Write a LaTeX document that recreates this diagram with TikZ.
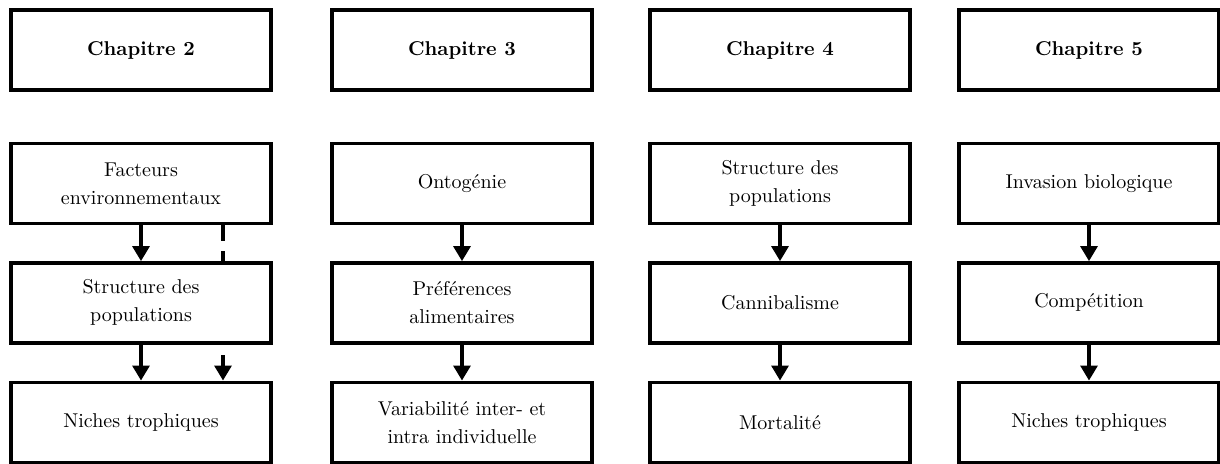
\documentclass[tikz,border=0pt]{standalone}
\usepackage{tikz}
\usetikzlibrary{positioning,arrows.meta,backgrounds}

\tikzset{
  boite/.style={draw, line width=1.7pt, fill=white, minimum width=130pt, minimum height=40pt,
    align=center, font={\fontsize{10}{14}\selectfont}},
  chap/.style={boite, font=\bfseries},
  fleche/.style={line width=1.6pt, -{Triangle[length=7.5pt,width=8.5pt]}},
}

\begin{document}
\begin{tikzpicture}[x=0.5pt, y=-0.5pt, node distance=18pt]
\useasboundingbox (0,0) rectangle (1220,463);

\node[chap] (ch2) at (141,50) {Chapitre 2};
\node[chap] (ch3) at (462,50) {Chapitre 3};
\node[chap] (ch4) at (780,50) {Chapitre 4};
\node[chap] (ch5) at (1089,50) {Chapitre 5};

\node[boite, below=25pt of ch2] (fact) {Facteurs\\environnementaux};
\node[boite, below=of fact] (struct) {Structure des\\populations};
\node[boite, below=of struct] (niche) {Niches trophiques};

\node[boite, below=25pt of ch3] (onto) {Ontog\'enie};
\node[boite, below=of onto] (pref) {Pr\'ef\'erences\\alimentaires};
\node[boite, below=of pref] (vari) {Variabilit\'e inter- et\\intra individuelle};

\node[boite, below=25pt of ch4] (pop) {Structure des\\populations};
\node[boite, below=of pop] (canni) {Cannibalisme};
\node[boite, below=of canni] (mort) {Mortalit\'e};

\node[boite, below=25pt of ch5] (inva) {Invasion biologique};
\node[boite, below=of inva] (compet) {Comp\'etition};
\node[boite, below=of compet] (niche2) {Niches trophiques};

\begin{scope}[on background layer]
\draw[fleche, dash pattern=on 8pt off 5pt] ([xshift=41pt]fact.south) -- ([xshift=41pt]niche.north);
\end{scope}

\draw[fleche] (fact) -- (struct);
\draw[fleche] (struct) -- (niche);
\draw[fleche] (onto) -- (pref);
\draw[fleche] (pref) -- (vari);
\draw[fleche] (pop) -- (canni);
\draw[fleche] (canni) -- (mort);
\draw[fleche] (inva) -- (compet);
\draw[fleche] (compet) -- (niche2);
\end{tikzpicture}
\end{document}
